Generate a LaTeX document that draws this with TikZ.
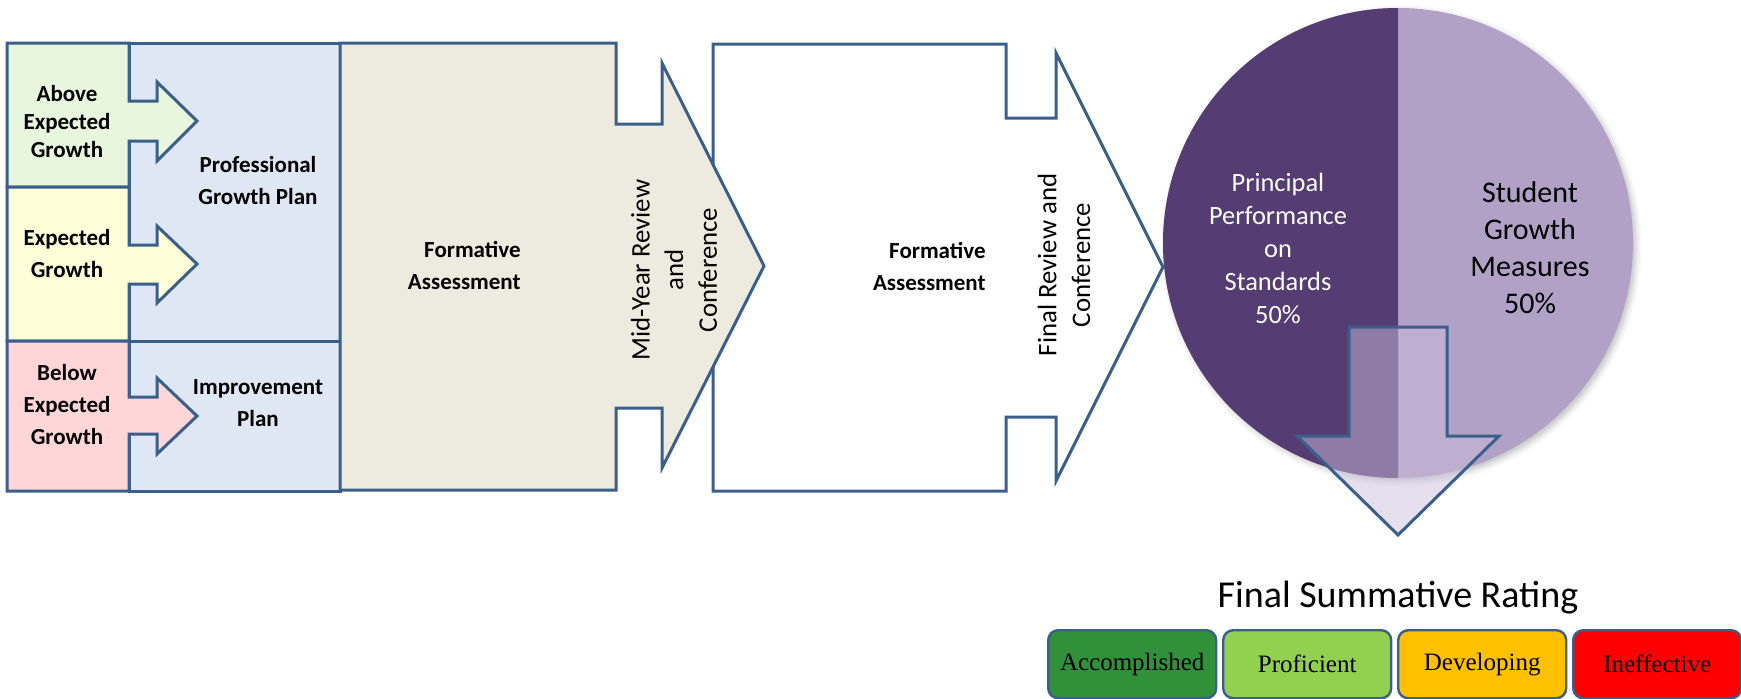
\documentclass[tikz,border=0pt]{standalone}
\usepackage{fontspec}
\setmainfont{Carlito}
\newfontfamily\ratingfont{Liberation Serif}
\usetikzlibrary{shadows.blur}

\definecolor{edge}{HTML}{3A5F8B}
\definecolor{aboveFill}{HTML}{E8F6DE}
\definecolor{expectFill}{HTML}{FEFED8}
\definecolor{belowFill}{HTML}{FED6D8}
\definecolor{planFill}{HTML}{DFE6F4}
\definecolor{formFill}{HTML}{EDEBE0}
\definecolor{pieDark}{HTML}{553D74}
\definecolor{pieLight}{HTML}{B1A1C7}
\definecolor{downFill}{HTML}{CCBFDC}
\definecolor{rateA}{HTML}{31903A}
\definecolor{rateP}{HTML}{92D050}
\definecolor{rateD}{HTML}{FFC000}
\definecolor{rateI}{HTML}{FF0000}

\begin{document}
\begin{tikzpicture}[x=0.5pt,y=-0.5pt,line join=miter,
  outline/.style={draw=edge,line width=1.5pt},
  boldlabel/.style={font=\bfseries\fontsize{11.5}{16}\selectfont,align=center,inner sep=0pt},
  sidelabel/.style={font=\fontsize{13.4}{16.8}\selectfont,align=center,inner sep=0pt,rotate=90},
  ratingbox/.style={draw=edge,line width=1.2pt,rounded corners=5pt,minimum width=84pt,
    minimum height=34pt,inner sep=0pt,anchor=north west,
    font=\ratingfont\fontsize{12.5}{14}\selectfont}]
\useasboundingbox (0,0) rectangle (1741,698);

% plan column behind the growth tabs
\filldraw[outline,fill=planFill] (129,43) rectangle (340,341);
\filldraw[outline,fill=planFill] (129,341) rectangle (340,491);

% growth tabs, each with its arrow
\filldraw[outline,fill=aboveFill] (7,43) -- (129,43) -- (129,101) -- (157,101) -- (157,82)
  -- (197,121) -- (157,161) -- (157,141) -- (129,141) -- (129,187) -- (7,187) -- cycle;
\filldraw[outline,fill=expectFill] (7,187) -- (129,187) -- (129,245) -- (157,245) -- (157,226)
  -- (197,264) -- (157,303) -- (157,284) -- (129,284) -- (129,341) -- (7,341) -- cycle;
\filldraw[outline,fill=belowFill] (7,341) -- (129,341) -- (129,397) -- (157,397) -- (157,378)
  -- (197,416) -- (157,454) -- (157,434) -- (129,434) -- (129,491) -- (7,491) -- cycle;

\node[boldlabel,font=\bfseries\fontsize{11.5}{14}\selectfont] (above) at (67,122) {Above\\Expected\\Growth};
\node[boldlabel] (expected) at (67,254) {Expected\\Growth};
\node[boldlabel] (below) at (67,405) {Below\\Expected\\Growth};
\node[boldlabel] (pgp) at (258,181) {Professional\\Growth Plan};
\node[boldlabel] (ip) at (258,403) {Improvement\\Plan};

% pie of the two rating halves
\fill[pieLight,blur shadow={shadow xshift=1.5pt,shadow yshift=-1.5pt,shadow blur radius=3pt,shadow opacity=25}]
  (1398,243) circle[radius=235];
\begin{scope}
  \clip (1150,0) rectangle (1398,500);
  \fill[pieDark] (1398,243) circle[radius=235];
\end{scope}
\node[font=\fontsize{13.2}{16.5}\selectfont,text=white,align=center,inner sep=0pt] (principal)
  at (1278,248) {Principal\\Performance\\on\\Standards\\50\%};
\node[font=\fontsize{15}{18.5}\selectfont,text=black,align=center,inner sep=0pt] (student)
  at (1530,248) {Student\\Growth\\Measures\\50\%};

% second phase callout
\filldraw[outline,fill=white] (713,44) -- (1006,44) -- (1006,118) -- (1056,118) -- (1056,53)
  -- (1163,267) -- (1056,481) -- (1056,417) -- (1006,417) -- (1006,491) -- (713,491) -- cycle;
% first phase callout
\filldraw[outline,fill=formFill] (340,43) -- (616,43) -- (616,124) -- (662,124) -- (662,63)
  -- (764,266) -- (662,468) -- (662,408) -- (616,408) -- (616,490) -- (340,490) -- cycle;

\node[boldlabel,align=right,anchor=east] (form1) at (521,265) {Formative\\Assessment};
\node[boldlabel,align=right,anchor=east] (form2) at (986,266) {Formative\\Assessment};
\node[sidelabel] (midyear) at (674,270) {Mid-Year Review\\and\\Conference};
\node[sidelabel] (finalrev) at (1064,265) {Final Review and\\Conference};

% arrow from the pie down to the ratings
\filldraw[outline,fill=downFill,fill opacity=0.49] (1349,327) -- (1447,327) -- (1447,436)
  -- (1499,436) -- (1398,535) -- (1297,436) -- (1349,436) -- cycle;

% final rating scale
\node[font=\fontsize{19}{22}\selectfont,anchor=base,inner sep=0pt] (fsr) at (1398,607) {Final Summative Rating};
\node[ratingbox,fill=rateA] (accomplished) at (1047,629) {Accomplished};
\node[ratingbox,fill=rateP] (proficient) at (1222,629) {Proficient};
\node[ratingbox,fill=rateD] (developing) at (1397,629) {Developing};
\node[ratingbox,fill=rateI] (ineffective) at (1572,629) {Ineffective};
\end{tikzpicture}
\end{document}
